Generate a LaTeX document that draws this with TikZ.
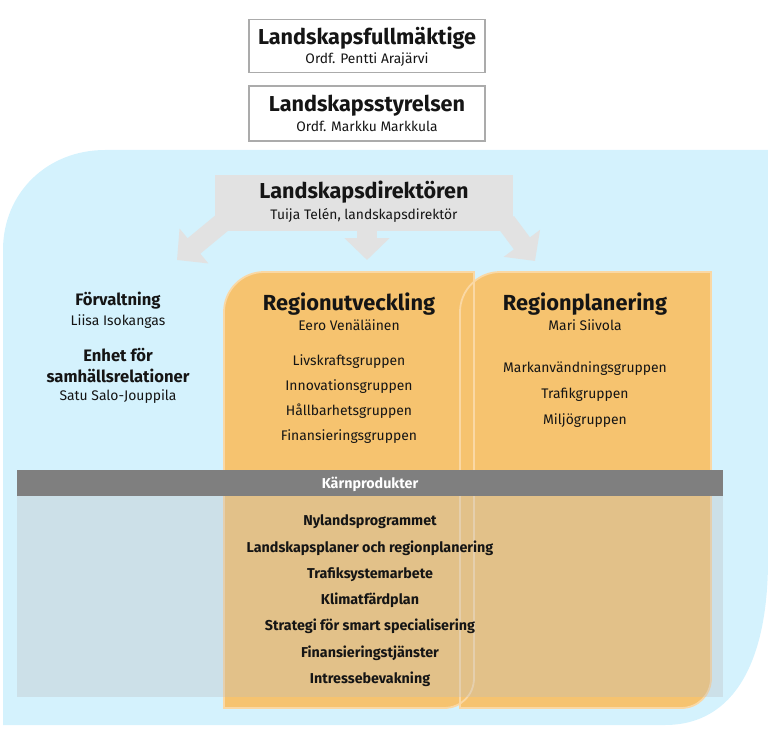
\documentclass[tikz,border=0pt]{standalone}
\usepackage{fontspec}
\setmainfont{Fira Sans}
\usetikzlibrary{arrows.meta,positioning}
\definecolor{skyblue}{HTML}{D4F2FD}
\definecolor{boxgray}{HTML}{ABABAB}
\definecolor{dirgray}{HTML}{E2E2E2}
\definecolor{panelorange}{HTML}{F6C36F}
\definecolor{panelrim}{HTML}{FAD8A4}
\definecolor{bargray}{HTML}{7F7F7F}
\definecolor{veil}{HTML}{BCBEC0}
\definecolor{ink}{HTML}{151515}
\tikzset{bigarrow/.style={draw=dirgray, line width=20pt, -{Triangle[width=44pt,length=22pt]}}}

\begin{document}
\begin{tikzpicture}[x=1pt, y=-1pt, inner sep=0pt, text=ink]
\tikzstyle{boss} = [rectangle, draw=boxgray, line width=1.2pt, fill=white, minimum width=236pt, minimum height=53pt]
\tikzstyle{title} = [anchor=base, font=\bfseries\fontsize{21.6}{25}\selectfont]
\tikzstyle{bigtitle} = [anchor=base, font=\bfseries\fontsize{21.8}{25}\selectfont]
\tikzstyle{sub} = [anchor=base, font=\fontsize{13.8}{16}\selectfont]
\tikzstyle{unit} = [anchor=base, font=\bfseries\fontsize{16.6}{19}\selectfont]
\tikzstyle{group} = [anchor=base, font=\fontsize{13.9}{16}\selectfont]
\tikzstyle{product} = [anchor=base, font=\bfseries\fontsize{14.3}{17}\selectfont]

\useasboundingbox (0,0) rectangle (768,738);

% blue background
\fill[skyblue] (3,725) -- (3,250) .. controls (3,192) and (48,150) .. (105,150)
  -- (768,150) -- (768,560) .. controls (768,660) and (735,725) .. (665,725) -- cycle;

% top boxes
\node[boss] (council) at (367,46) {};
\node[title] (councilname) at (367,45) {Landskapsfullmäktige};
\node[sub] (councilchair) at (367,64) {Ordf. Pentti Arajärvi};
\node[boss, minimum height=55pt] (board) at (367,113.5) {};
\node[title] (boardname) at (367,112) {Landskapsstyrelsen};
\node[sub] (boardchair) at (367,132) {Ordf. Markku Markkula};

% director with arrows
\node[rectangle, fill=dirgray, minimum width=298pt, minimum height=56pt] (dir) at (364,203) {};
\coordinate (tipL) at (177,260);
\coordinate (tipM) at (367,260);
\coordinate (tipR) at (535,261);
\path[bigarrow] (223,222) -- (tipL);
\path[bigarrow] (367,226) -- (tipM);
\path[bigarrow] (506,222) -- (tipR);
\node[title] (dirname) at (364,199) {Landskapsdirektören};
\node[sub] (dirperson) at (364,219) {Tuija Telén, landskapsdirektör};

% panels
\fill[panelorange] (224,708) -- (224,312) .. controls (224,290) and (242,272) .. (264,272)
  -- (474,272) -- (474,678) .. controls (474,695) and (461,708) .. (444,708) -- cycle;
\fill[panelorange] (460,708) -- (460,312) .. controls (460,290) and (478,272) .. (500,272)
  -- (711,272) -- (711,678) .. controls (711,695) and (698,708) .. (681,708) -- cycle;
\draw[panelrim, line width=1.8pt] (224,708) -- (224,312) .. controls (224,290) and (242,272) .. (264,272)
  -- (474,272) -- (474,678) .. controls (474,695) and (461,708) .. (444,708) -- cycle;
\draw[panelrim, line width=1.8pt] (460,708) -- (460,312) .. controls (460,290) and (478,272) .. (500,272)
  -- (711,272) -- (711,678) .. controls (711,695) and (698,708) .. (681,708) -- cycle;

% left column
\node[unit] (admin) at (118,305) {Förvaltning};
\node[group] (adminhead) at (118,325) {Liisa Isokangas};
\node[unit] (rel1) at (118,361) {Enhet för};
\node[unit] (rel2) at (118,382) {samhällsrelationer};
\node[group] (relhead) at (118,400) {Satu Salo-Jouppila};

% Regionutveckling
\node[bigtitle] (devname) at (349,310) {Regionutveckling};
\node[group] (devhead) at (349,330) {Eero Venäläinen};
\node[group] (dev1) at (349,365) {Livskraftsgruppen};
\node[group] (dev2) at (349,390) {Innovationsgruppen};
\node[group] (dev3) at (349,415) {Hållbarhetsgruppen};
\node[group] (dev4) at (349,440) {Finansieringsgruppen};

% Regionplanering
\node[bigtitle] (planname) at (585,310) {Regionplanering};
\node[group] (planhead) at (585,330) {Mari Siivola};
\node[group] (plan1) at (585,372) {Markanvändningsgruppen};
\node[group] (plan2) at (585,398) {Trafikgruppen};
\node[group] (plan3) at (585,424) {Miljögruppen};

% core products
\fill[veil, opacity=0.33] (17,496) rectangle (723,697);
\node[rectangle, fill=bargray, minimum width=706pt, minimum height=26pt] (core) at (370,483) {};
\node[product, text=white] (corename) at (370,488.5) {Kärnprodukter};
\node[product] (prod1) at (370,525) {Nylandsprogrammet};
\node[product] (prod2) at (370,552) {Landskapsplaner och regionplanering};
\node[product] (prod3) at (370,578) {Trafiksystemarbete};
\node[product] (prod4) at (370,604) {Klimatfärdplan};
\node[product] (prod5) at (370,630) {Strategi för smart specialisering};
\node[product] (prod6) at (370,657) {Finansieringstjänster};
\node[product] (prod7) at (370,683) {Intressebevakning};

\end{tikzpicture}
\end{document}
